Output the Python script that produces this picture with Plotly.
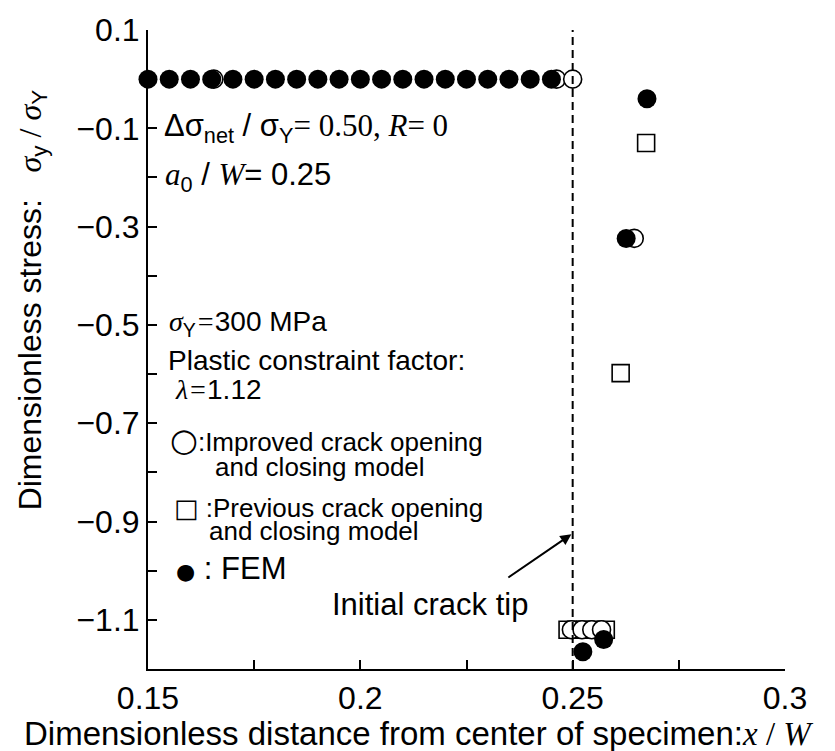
import plotly.graph_objects as go

SANS = "Liberation Sans, Arial, sans-serif"
SERIF = "Liberation Serif, Times New Roman, serif"
SYM = "DejaVu Sans, sans-serif"

# FEM results
fem_x = [0.150, 0.155, 0.160, 0.165, 0.170, 0.175, 0.180, 0.185, 0.190, 0.195,
         0.200, 0.205, 0.210, 0.215, 0.220, 0.225, 0.230, 0.235, 0.240, 0.245,
         0.2675, 0.2626, 0.2573, 0.2524]
fem_y = [0.0, 0.0, 0.0, 0.0, 0.0, 0.0, 0.0, 0.0, 0.0, 0.0,
         0.0, 0.0, 0.0, 0.0, 0.0, 0.0, 0.0, 0.0, 0.0, 0.0,
         -0.04, -0.324, -1.14, -1.165]

# Improved crack opening and closing model
improved_x = [0.1655, 0.2462, 0.2500, 0.2645, 0.2497, 0.2522, 0.2545, 0.2568]
improved_y = [0.0, 0.0, 0.0, -0.324, -1.12, -1.12, -1.12, -1.12]

# Previous crack opening and closing model
previous_x = [0.2673, 0.2613, 0.2488, 0.2508, 0.2530, 0.2552, 0.2578]
previous_y = [-0.13, -0.598, -1.12, -1.12, -1.12, -1.12, -1.12]

crack_tip_x = 0.25

x_ticks = [0.15, 0.2, 0.25, 0.3]
x_labels = ["0.15", "0.2", "0.25", "0.3"]
x_minor = [0.175, 0.225, 0.275]
y_ticks = [0.1, -0.1, -0.3, -0.5, -0.7, -0.9, -1.1]
y_labels = ["0.1", "\u22120.1", "\u22120.3", "\u22120.5", "\u22120.7", "\u22120.9", "\u22121.1"]
y_minor = [0.0, -0.2, -0.4, -0.6, -0.8, -1.0, -1.2]

fig = go.Figure()

fig.add_trace(go.Scatter(
    x=previous_x, y=previous_y, mode="markers", cliponaxis=False,
    marker=dict(symbol="square", size=17, color="white", line=dict(color="black", width=1.6)),
    name="Previous"))
fig.add_trace(go.Scatter(
    x=improved_x, y=improved_y, mode="markers", cliponaxis=False,
    marker=dict(symbol="circle", size=18, color="white", line=dict(color="black", width=1.6)),
    name="Improved"))
fig.add_trace(go.Scatter(
    x=fem_x, y=fem_y, mode="markers", cliponaxis=False,
    marker=dict(symbol="circle", size=19, color="black", line=dict(color="black", width=0)),
    name="FEM"))

# initial crack tip
fig.add_shape(type="line", x0=crack_tip_x, x1=crack_tip_x, y0=-1.2, y1=0.1,
              xref="x", yref="y", line=dict(color="black", width=2, dash="8px,5px"))


def span(txt, fam, size=None):
    style = f"font-family:{fam}"
    if size:
        style += f";font-size:{size}px"
    return f'<span style="{style}">{txt}</span>'


notes = [
    (0.1533, -0.100, span("\u0394\u03c3<sub>net</sub> / \u03c3<sub>Y</sub>", SANS)
     + span("= 0.50, <i>R</i>= 0", SERIF), 31),
    (0.1535, -0.200, span("<i>a</i>", SERIF) + "<sub>0</sub>" + " / " + span("<i>W</i>", SERIF)
     + "= 0.25", 31),
    (0.1545, -0.497, span("<i>\u03c3</i>", SERIF) + "<sub>Y</sub>" + span("<i>=</i>", SERIF)
     + "300 MPa", 28),
    (0.1542, -0.573, "Plastic constraint factor:", 28),
    (0.1559, -0.632, span("<i>\u03bb</i>", SERIF) + span("<i>=</i>", SERIF) + "1.12", 28),
    (0.1547, -0.734, span("\u25cb", SYM, 32) + ":Improved crack opening", 26),
    (0.1653, -0.789, "and closing model", 26),
    (0.1557, -0.873, span("\u25a1", SYM) + " :Previous crack opening", 26),
    (0.1639, -0.920, "and closing model", 26),
    (0.1562, -0.996, span("\u25cf", SYM, 22) + " : FEM", 31),
]

annotations = []
for x, y, txt, size in notes:
    annotations.append(dict(x=x, y=y, xref="x", yref="y", text=txt, showarrow=False,
                            xanchor="left", yanchor="middle",
                            font=dict(family=SANS, size=size, color="black")))

annotations.append(dict(x=0.1928, y=-1.069, xref="x", yref="y", text="Initial crack tip",
                        showarrow=False, xanchor="left", yanchor="middle",
                        font=dict(family=SANS, size=31, color="black")))
annotations.append(dict(x=0.2497, y=-0.926, ax=0.2345, ay=-1.016, xref="x", yref="y",
                        axref="x", ayref="y", text="", showarrow=True, arrowhead=2,
                        arrowsize=1.1, arrowwidth=2, arrowcolor="black"))

# axis titles
annotations.append(dict(x=0.424, y=-0.101, xref="paper", yref="paper",
                        text="Dimensionless distance from center of specimen:"
                        + span("<i>x</i> / <i>W</i>", SERIF),
                        showarrow=False, xanchor="center", yanchor="middle",
                        font=dict(family=SANS, size=33, color="black")))
annotations.append(dict(x=-0.182, y=0.577, xref="paper", yref="paper", textangle=-90,
                        text="Dimensionless stress:   " + span("<i>\u03c3</i>", SERIF) + "<sub>y</sub>"
                        + span(" / ", SERIF) + span("<i>\u03c3</i>", SERIF) + "<sub>Y</sub>",
                        showarrow=False, xanchor="center", yanchor="middle",
                        font=dict(family=SANS, size=32, color="black")))

axis_common = dict(ticks="inside", ticklen=9, tickwidth=2, tickcolor="black",
                   showline=True, linecolor="black", linewidth=2, mirror=False,
                   showgrid=False, zeroline=False,
                   tickfont=dict(family=SANS, size=32, color="black"))

fig.update_layout(
    width=835, height=751,
    margin=dict(l=148, r=50, t=23, b=82),
    paper_bgcolor="white", plot_bgcolor="white",
    showlegend=False,
    annotations=annotations,
    font=dict(family=SANS, size=31, color="black"),
    xaxis=dict(range=[0.15, 0.3], tickvals=x_ticks, ticktext=x_labels,
               minor=dict(tickvals=x_minor, ticks="inside", ticklen=9, tickwidth=2,
                          tickcolor="black", showgrid=False),
               **axis_common),
    yaxis=dict(range=[-1.2, 0.1], tickvals=y_ticks, ticktext=y_labels,
               minor=dict(tickvals=y_minor, ticks="inside", ticklen=9, tickwidth=2,
                          tickcolor="black", showgrid=False),
               **axis_common),
)

fig.write_html("out.html")
